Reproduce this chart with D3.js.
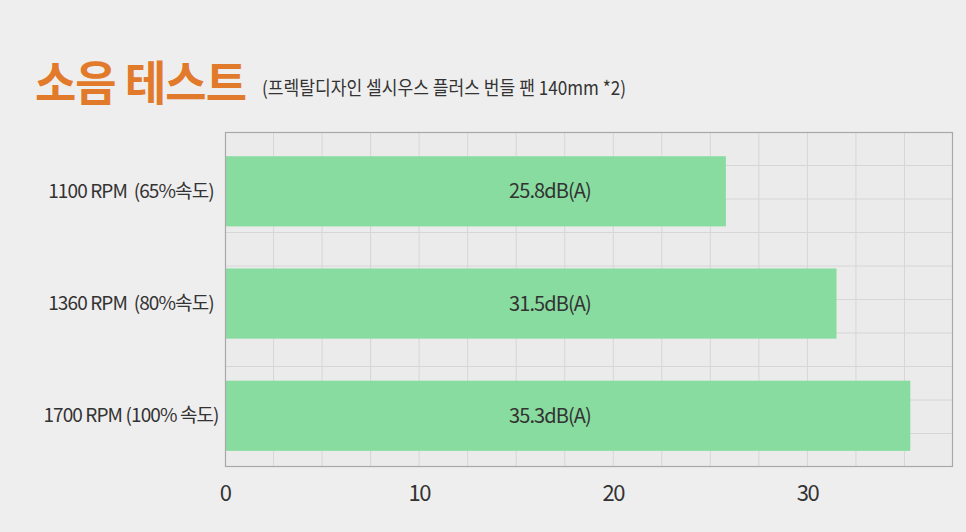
<!DOCTYPE html>
<html>
<head>
<meta charset="utf-8">
<script src="https://cdn.jsdelivr.net/npm/d3@7/dist/d3.min.js"></script>
<style>
  html, body { margin: 0; padding: 0; background: #efeeee; }
  svg { display: block; }
  text { font-family: "Noto Sans CJK KR", "Noto Sans", sans-serif; }
</style>
</head>
<body>
<svg id="chart" width="966" height="532"></svg>
<script>
const titleText = "소음 테스트";
const subtitleText = "(프렉탈디자인 셀시우스 플러스 번들 팬 140mm *2)";
const categories = ["1100 RPM  (65%속도)", "1360 RPM  (80%속도)", "1700 RPM (100% 속도)"];
const values = [25.8, 31.5, 35.3];
const valueLabels = ["25.8dB(A)", "31.5dB(A)", "35.3dB(A)"];
const tickLabels = [0, 10, 20, 30];
const gridStep = 2.5;
const xMax = 37.5;
const hGridCount = 10;

const svg = d3.select("#chart");
const W = 966, H = 532;
const pLeft = 225, pRight = 953, pTop = 132, pBottom = 467;

svg.append("rect").attr("width", W).attr("height", H).attr("fill", "#efeeee");

const x = d3.scaleLinear().domain([0, xMax]).range([pLeft, pRight]);
const y = d3.scaleBand().domain(categories).range([pTop, pBottom])
  .paddingInner(0.375).paddingOuter(0.18).align(0.6);
const yGrid = d3.scaleLinear().domain([0, hGridCount]).range([pTop, pBottom]);

// plot background
svg.append("rect").attr("x", pLeft).attr("y", pTop)
  .attr("width", pRight - pLeft).attr("height", pBottom - pTop)
  .attr("fill", "#ebebeb");

// vertical grid
svg.append("g").selectAll("line")
  .data(d3.range(gridStep, xMax, gridStep))
  .join("line")
  .attr("x1", d => x(d)).attr("x2", d => x(d))
  .attr("y1", pTop).attr("y2", pBottom)
  .attr("stroke", "#d6d6d6").attr("stroke-width", 1);

// horizontal grid
svg.append("g").selectAll("line")
  .data(d3.range(1, hGridCount))
  .join("line")
  .attr("x1", pLeft).attr("x2", pRight)
  .attr("y1", d => yGrid(d)).attr("y2", d => yGrid(d))
  .attr("stroke", "#d6d6d6").attr("stroke-width", 1);

// bars
svg.append("g").selectAll("rect")
  .data(values)
  .join("rect")
  .attr("x", x(0))
  .attr("y", (d, i) => y(categories[i]))
  .attr("width", d => x(d) - x(0))
  .attr("height", y.bandwidth())
  .attr("fill", "#88dc9f");

// frame
svg.append("rect").attr("x", pLeft + 0.5).attr("y", pTop + 0.5)
  .attr("width", pRight - pLeft - 1).attr("height", pBottom - pTop - 1)
  .attr("fill", "none").attr("stroke", "#a8a8a8").attr("stroke-width", 1.2);

// value labels
svg.append("g").selectAll("text")
  .data(valueLabels)
  .join("text")
  .attr("x", 550)
  .attr("y", (d, i) => y(categories[i]) + y.bandwidth() / 2)
  .attr("dy", "0.35em")
  .attr("text-anchor", "middle")
  .attr("font-size", 20)
  .attr("letter-spacing", -0.9)
  .attr("fill", "#333")
  .text(d => d);

// category labels
svg.append("g").selectAll("text")
  .data(categories)
  .join("text")
  .attr("x", 131)
  .attr("y", d => y(d) + y.bandwidth() / 2)
  .attr("dy", "0.35em")
  .attr("text-anchor", "middle")
  .attr("font-size", 19)
  .attr("letter-spacing", -0.9)
  .attr("fill", "#333")
  .style("white-space", "pre")
  .text(d => d);

// x tick labels
svg.append("g").selectAll("text")
  .data(tickLabels)
  .join("text")
  .attr("x", d => x(d))
  .attr("y", 493)
  .attr("dy", "0.35em")
  .attr("text-anchor", "middle")
  .attr("font-size", 22)
  .attr("letter-spacing", -1.5)
  .attr("fill", "#333")
  .text(d => d);

// title
svg.append("text")
  .attr("x", 35).attr("y", 100)
  .attr("font-size", 47).attr("font-weight", 700)
  .attr("letter-spacing", -1)
  .attr("fill", "#e27a2b")
  .attr("textLength", 211).attr("lengthAdjust", "spacingAndGlyphs")
  .text(titleText);

svg.append("text")
  .attr("x", 262).attr("y", 95)
  .attr("font-size", 19)
  .attr("fill", "#333")
  .attr("textLength", 364).attr("lengthAdjust", "spacingAndGlyphs")
  .text(subtitleText);
</script>
</body>
</html>
